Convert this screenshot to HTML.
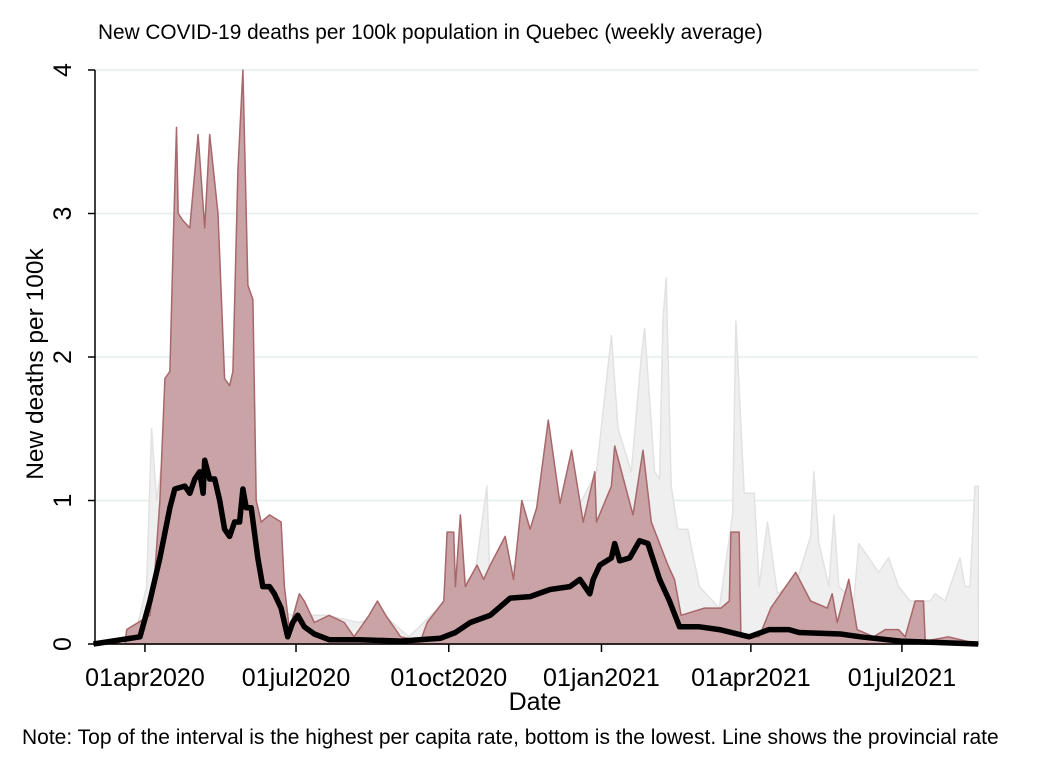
<!DOCTYPE html>
<html><head><meta charset="utf-8"><style>
body{margin:0;background:#fff;}
svg{display:block;font-family:"Liberation Sans",Arial,sans-serif;}
</style></head><body>
<svg id="chart" width="1056" height="768" viewBox="0 0 1056 768">
<rect width="1056" height="768" fill="#fff"/>
<text x="98" y="39" font-size="20.8" fill="#000">New COVID-19 deaths per 100k population in Quebec (weekly average)</text>
<g id="grid"></g>
<g id="series"></g>
<g id="axes"></g>
<text transform="translate(43,364) rotate(-90)" text-anchor="middle" font-size="24.5">New deaths per 100k</text>
<text x="535" y="710" text-anchor="middle" font-size="25">Date</text>
<text x="22" y="744" font-size="21">Note: Top of the interval is the highest per capita rate, bottom is the lowest. Line shows the provincial rate</text>
</svg>
<script>
// days since 2020-03-01
const greyDays=[0,25,32,35,38,44,50,120,140,160,175,190,230,237,239,268,272,303,312,316,324,330,332,338,341,343,345,348,352,358,365,377,385,387,392,398,401,406,412,424,432,434,437,443,446,449,458,461,473,479,485,492,504,507,513,522,525,528,531,533];
const greyVals=[0,0.05,0.4,1.5,1.0,1.5,0.5,0.2,0.2,0.15,0.2,0.05,0.5,1.1,0.4,0.7,0.5,1.2,2.15,1.5,1.2,2.0,2.2,1.2,1.15,2.25,2.55,1.1,0.8,0.8,0.4,0.25,0.9,2.25,1.05,1.05,0.4,0.85,0.35,0.45,0.75,1.2,0.7,0.4,0.9,0.4,0.3,0.7,0.5,0.6,0.4,0.3,0.3,0.35,0.3,0.6,0.4,0.4,1.1,1.1];
const redDays=[0,19,20,34,37,40,43,46,48,50,51,54,58,63,67,70,75,79,82,84,87,90,93,96,98,101,106,113,115,118,124,127,133,142,151,157,166,171,176,185,197,201,211,213,217,218,221,224,231,235,239,248,253,258,263,267,274,281,288,295,302,303,312,314,325,331,336,346,350,354,368,378,383,384,389,390,401,408,423,432,442,445,448,455,460,470,477,485,489,495,500,501,515,533];
const redVals=[0,0,0.1,0.2,0.5,1.0,1.85,1.9,2.8,3.6,3.0,2.95,2.9,3.55,2.9,3.55,3.0,1.85,1.8,1.9,3.3,4.0,2.5,2.4,1.0,0.85,0.9,0.85,0.4,0.1,0.35,0.3,0.15,0.2,0.15,0.05,0.2,0.3,0.2,0.05,0.02,0.15,0.3,0.78,0.78,0.4,0.9,0.4,0.55,0.45,0.55,0.75,0.45,1.0,0.8,0.95,1.56,0.98,1.35,0.85,1.2,0.85,1.1,1.38,0.9,1.35,0.85,0.55,0.45,0.2,0.25,0.25,0.3,0.78,0.78,0.05,0.05,0.25,0.5,0.3,0.25,0.35,0.15,0.45,0.1,0.05,0.1,0.1,0.05,0.3,0.3,0.02,0.05,0];
const lineDays=[0,28,34,40,46,49,55,58,61,64,66,67,70,73,76,79,82,85,88,90,92,95,99,102,106,109,113,117,120,123,127,133,142,160,185,209,218,227,239,251,263,275,287,293,299,301,305,312,314,317,323,329,334,341,347,353,365,377,395,407,419,425,450,462,486,533];
const lineVals=[0,0.05,0.3,0.6,0.95,1.08,1.1,1.05,1.15,1.2,1.05,1.28,1.15,1.15,1.0,0.8,0.75,0.85,0.85,1.08,0.95,0.95,0.6,0.4,0.4,0.35,0.25,0.05,0.15,0.2,0.12,0.07,0.03,0.03,0.02,0.04,0.08,0.15,0.2,0.32,0.33,0.38,0.4,0.45,0.35,0.45,0.55,0.6,0.7,0.58,0.6,0.72,0.7,0.45,0.3,0.12,0.12,0.1,0.05,0.1,0.1,0.08,0.07,0.05,0.02,0];
const yTicks=[0,1,2,3,4];
const xTickDays=[31,122,214,306,396,487];
const xTickLabels=["01apr2020","01jul2020","01oct2020","01jan2021","01apr2021","01jul2021"];

const NS="http://www.w3.org/2000/svg";
const X=d=>93.5+d*1.66;
const Y=v=>644-v*143.5;
function mk(tag,attrs,parent){const e=document.createElementNS(NS,tag);for(const k in attrs)e.setAttribute(k,attrs[k]);parent.appendChild(e);return e;}
const grid=document.getElementById('grid'),ser=document.getElementById('series'),ax=document.getElementById('axes');

yTicks.forEach(t=>{if(t>0){const g=mk('line',{x1:95,x2:978,y1:Y(t),y2:Y(t),stroke:'#e3eeee','stroke-width':1.5},grid);

}});

function area(days,vals,fill,stroke,name){
  let d='M'+X(days[0])+','+Y(0);
  days.forEach((dd,i)=>{d+=' L'+X(dd).toFixed(1)+','+Y(vals[i]).toFixed(1);});
  d+=' L'+X(days[days.length-1])+','+Y(0)+' Z';
  const p=mk('path',{d:d,fill:fill,stroke:stroke,'stroke-width':1.5,'stroke-linejoin':'round'},ser);
  
  
}
area(greyDays,greyVals,'#efefef','#e2e2e2','range-other-area');
area(redDays,redVals,'#c9a3a5','#a8676b','range-quebec-area');
let ld='';
lineDays.forEach((dd,i)=>{ld+=(i?' L':'M')+X(dd).toFixed(1)+','+Y(lineVals[i]).toFixed(1);});
const ln=mk('path',{d:ld,fill:'none',stroke:'#000','stroke-width':5.5,'stroke-linejoin':'round'},ser);



const ya=mk('line',{x1:95,x2:95,y1:Y(4),y2:Y(0),stroke:'#000','stroke-width':1.5},ax);


const xa=mk('line',{x1:95,x2:978,y1:Y(0),y2:Y(0),stroke:'#000','stroke-width':1.5},ax);


yTicks.forEach(t=>{
  mk('line',{x1:88,x2:95,y1:Y(t),y2:Y(t),stroke:'#000','stroke-width':1.5},ax);
  const tx=mk('text',{transform:`translate(71,${Y(t)}) rotate(-90)`,'text-anchor':'middle','font-size':25},ax);
  tx.textContent=t;
  
  
});
xTickDays.forEach((d,i)=>{
  mk('line',{x1:X(d),x2:X(d),y1:Y(0),y2:Y(0)+8,stroke:'#000','stroke-width':1.5},ax);
  const tx=mk('text',{x:X(d),y:686,'text-anchor':'middle','font-size':25},ax);
  tx.textContent=xTickLabels[i];
  
  
});
</script>
</body></html>
